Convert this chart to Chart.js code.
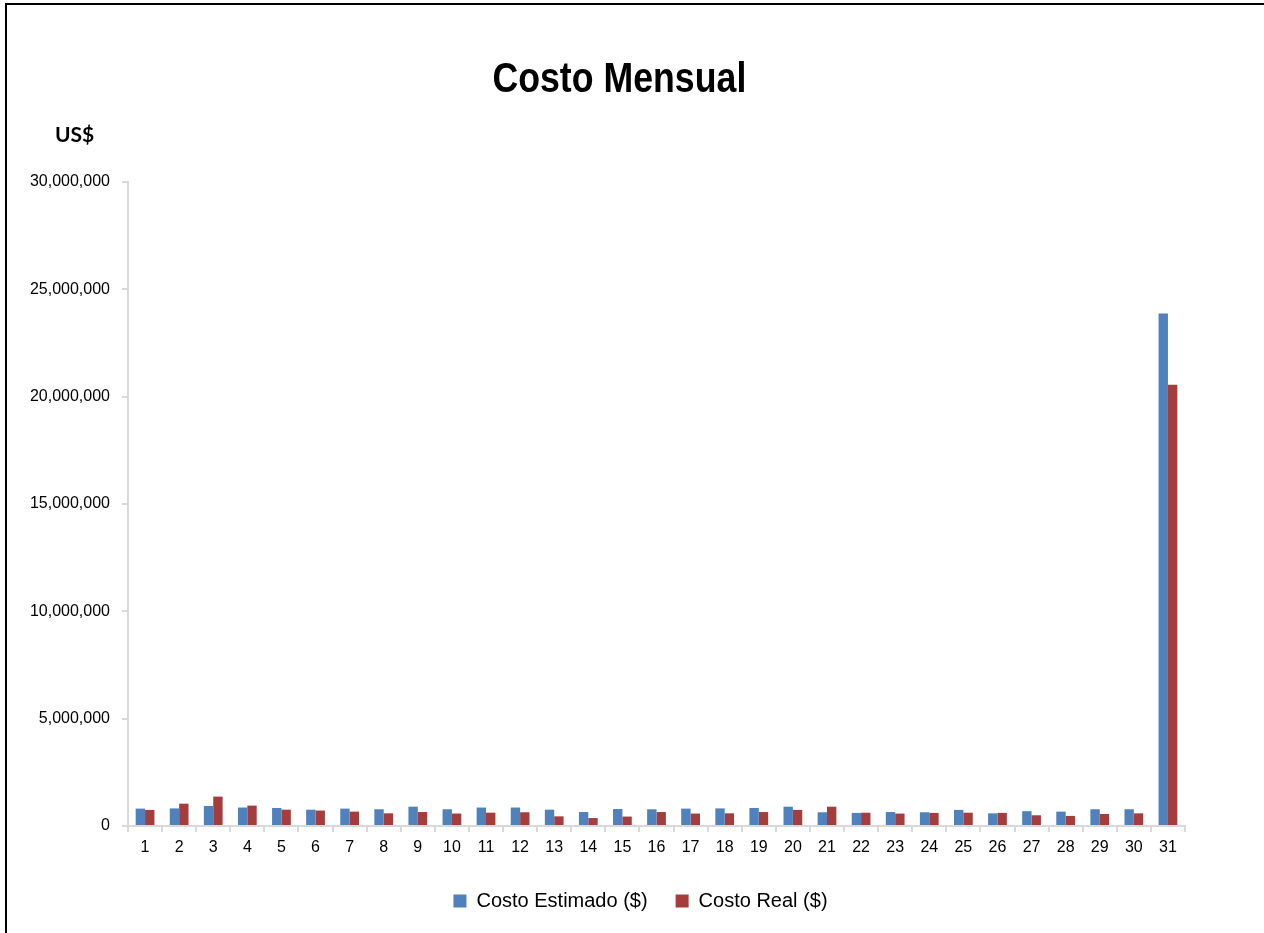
<!DOCTYPE html>
<html>
<head>
<meta charset="utf-8">
<script src="https://cdn.jsdelivr.net/npm/chart.js@4.4.1/dist/chart.umd.min.js"></script>
<style>
  html, body { margin: 0; padding: 0; background: #fff; overflow: hidden; }
  #wrap { position: relative; width: 1264px; height: 933px; }
  #frame { position: absolute; left: 5px; top: 3px; width: 1300px; height: 1000px; border: 2px solid #000; box-sizing: border-box; pointer-events: none; }
  #title { position: absolute; left: 0; top: 57px; width: 1239px; text-align: center; font-family: "Liberation Sans", Arial, sans-serif; font-weight: bold; font-size: 42px; line-height: 42px; color: #000; }
  #title span { display: inline-block; transform: scaleX(0.85); transform-origin: 50% 50%; }
  #unit { position: absolute; left: 55px; top: 123px; font-family: Lato, "Open Sans", sans-serif; font-weight: bold; font-size: 21px; line-height: 21px; color: #000; }
  canvas { position: absolute; left: 0; top: 0; }
</style>
</head>
<body>
<div id="wrap">
  <canvas id="c" width="1264" height="933"></canvas>
  <div id="title"><span>Costo Mensual</span></div>
  <div id="unit">US$</div>
  <div id="frame"></div>
</div>
<script>
const categories = ['1','2','3','4','5','6','7','8','9','10','11','12','13','14','15','16','17','18','19','20','21','22','23','24','25','26','27','28','29','30','31'];
const costoEstimado = [810000, 820000, 930000, 860000, 840000, 760000, 810000, 780000, 900000, 780000, 860000, 860000, 760000, 650000, 790000, 780000, 810000, 820000, 840000, 900000, 640000, 610000, 650000, 640000, 750000, 590000, 690000, 670000, 780000, 780000, 23880000];
const costoReal = [750000, 1040000, 1370000, 950000, 760000, 720000, 670000, 590000, 650000, 580000, 620000, 640000, 450000, 370000, 440000, 650000, 580000, 590000, 650000, 750000, 900000, 620000, 580000, 610000, 620000, 610000, 500000, 470000, 560000, 590000, 20560000];
const seriesNames = ['Costo Estimado ($)', 'Costo Real ($)'];
const yTickMax = 30000000;
const yTickStep = 5000000;

const axisColor = '#d9d9d9';
const tickFont = { family: '"Liberation Sans", Arial, sans-serif', size: 16 };

const legendShift = {
  id: 'legendShift',
  afterLayout(chart) {
    const lg = chart.legend;
    if (lg) { lg.left += 48; lg.right += 48; }
  }
};

new Chart(document.getElementById('c'), {
  type: 'bar',
  data: {
    labels: categories,
    datasets: [
      { label: seriesNames[0], data: costoEstimado, backgroundColor: '#4f81bd', borderWidth: 0 },
      { label: seriesNames[1], data: costoReal, backgroundColor: '#a53d3d', borderWidth: 0 }
    ]
  },
  plugins: [legendShift],
  options: {
    responsive: false,
    animation: false,
    devicePixelRatio: 1,
    layout: { padding: { left: 0, right: 79, top: 182, bottom: 12 } },
    datasets: { bar: { categoryPercentage: 0.55, barPercentage: 1.0 } },
    plugins: {
      title: { display: false },
      tooltip: { enabled: false },
      legend: {
        position: 'bottom',
        labels: {
          boxWidth: 13, boxHeight: 13, padding: 28, color: '#000',
          font: { family: '"Liberation Sans", Arial, sans-serif', size: 20 }
        }
      }
    },
    scales: {
      x: {
        afterFit: (s) => { s.height = 37; },
        grid: { display: true, drawOnChartArea: false, drawTicks: true, tickLength: 6, color: axisColor, lineWidth: 2, offset: true },
        border: { display: true, color: axisColor, width: 2 },
        ticks: { color: '#000', font: tickFont, padding: 6, maxRotation: 0, autoSkip: false }
      },
      y: {
        min: 0, max: yTickMax,
        afterFit: (s) => { s.width = 128; },
        grid: { display: true, drawOnChartArea: false, drawTicks: true, tickLength: 6, color: axisColor, lineWidth: 2 },
        border: { display: true, color: axisColor, width: 2 },
        ticks: { stepSize: yTickStep, color: '#000', font: tickFont, padding: 12,
          callback: (v) => Number(v).toLocaleString('en-US') }
      }
    }
  }
});
</script>
</body>
</html>
